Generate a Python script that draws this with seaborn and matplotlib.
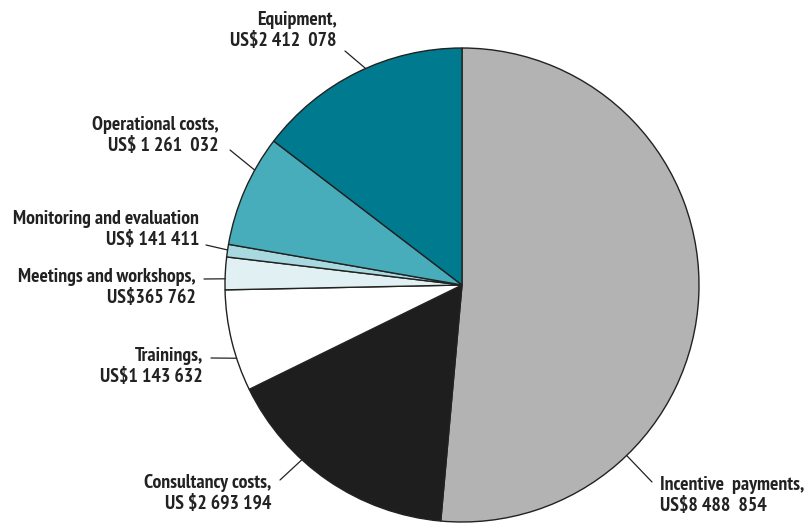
import numpy as np
import matplotlib
matplotlib.use("Agg")
import matplotlib.pyplot as plt
import seaborn as sns

categories = ["Incentive payments", "Consultancy costs", "Trainings",
              "Meetings and workshops", "Monitoring and evaluation",
              "Operational costs", "Equipment"]
values = [8488854, 2693194, 1143632, 365762, 141411, 1261032, 2412078]
label_lines = [
    "Incentive  payments,\nUS$8 488  854",
    "Consultancy costs,\nUS $2 693 194",
    "Trainings,\nUS$1 143 632",
    "Meetings and workshops,\nUS$365 762",
    "Monitoring and evaluation\nUS$ 141 411",
    "Operational costs,\nUS$ 1 261  032",
    "Equipment,\nUS$2 412  078",
]
colors = ["#b3b3b3", "#1e1e1e", "#ffffff", "#e1f0f2", "#a9d9e0", "#48adbb", "#007a8f"]

sns.set_style("white")
plt.rcParams['font.family'] = ['PT Sans Narrow', 'DejaVu Sans']

W, H = 807, 523
fig = plt.figure(figsize=(W / 100, H / 100), dpi=100)
ax = fig.add_axes([0, 0, 1, 1])

cx, cy, R = 462, H - 285, 237
wedges, _ = ax.pie(values, colors=colors, startangle=90, counterclock=False,
                   center=(cx, cy), radius=R, frame=True,
                   wedgeprops=dict(edgecolor="#222222", linewidth=1.0))
ax.set_xlim(0, W)
ax.set_ylim(0, H)
ax.set_aspect("equal")
ax.axis("off")

# layout: (text x, text top y in px from top, ha, line outer x, line outer y, anchor angle)
layout = [
    (660, 476, "left", 652, 482, -46),
    (271, 474, "right", 280, 480, 227.5),
    (203, 347, "right", 211, 358, 198),
    (196, 268, "right", 204, 279, 178.5),
    (199, 210, "right", 206, 245, 171.5),
    (219, 116, "right", 230, 150, 151),
    (337, 11, "right", 345, 51, 114),
]
for (tx, ty, ha, lx, ly, ang), txt in zip(layout, label_lines):
    ax.text(tx, H - ty, txt, ha=ha, va="top", fontsize=14.2, fontweight="bold",
            color="#222222", linespacing=1.22)
    ex = cx + R * np.cos(np.radians(ang))
    ey = cy + R * np.sin(np.radians(ang))
    ax.plot([lx, ex], [H - ly, ey], color="#222222", lw=0.9)

fig.savefig("out.png", dpi=100)
